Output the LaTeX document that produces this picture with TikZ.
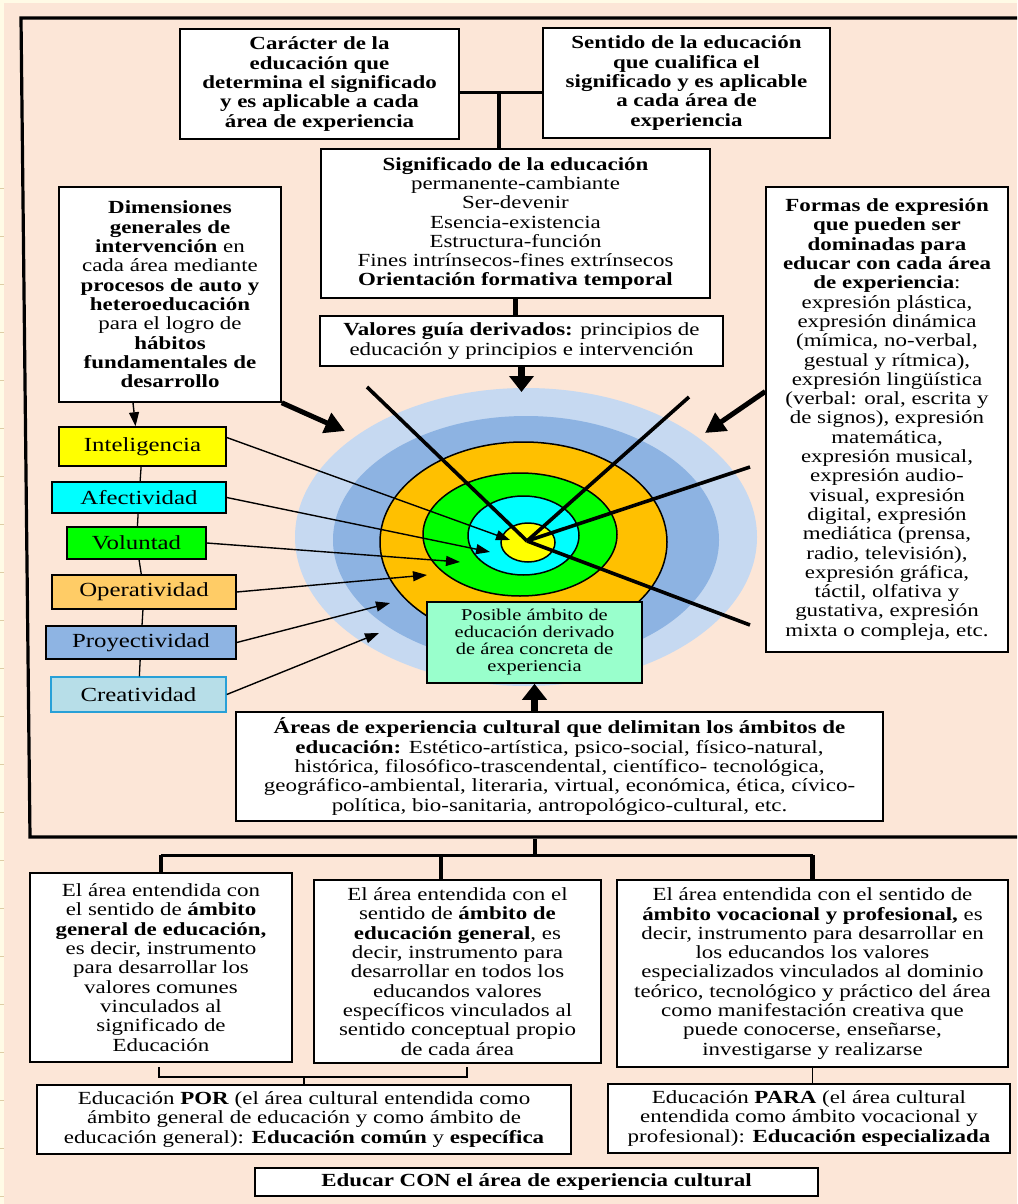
\documentclass[tikz,border=0pt]{standalone}
\usepackage{fontspec}
\setmainfont{Liberation Serif}[FakeStretch=1.24]
\usepackage{tikz}
\usetikzlibrary{arrows.meta}
\definecolor{peach}{RGB}{252,230,215}
\definecolor{paper}{RGB}{255,251,230}
\definecolor{rulemark}{RGB}{222,205,165}
\definecolor{ringA}{RGB}{198,217,241}
\definecolor{ringB}{RGB}{141,179,226}
\definecolor{ringC}{RGB}{255,192,0}
\definecolor{ringD}{RGB}{0,255,0}
\definecolor{ringE}{RGB}{0,255,255}
\definecolor{ringF}{RGB}{255,255,0}
\definecolor{operC}{RGB}{255,204,102}
\definecolor{proyC}{RGB}{142,180,227}
\definecolor{creatC}{RGB}{183,222,232}
\definecolor{creatL}{RGB}{40,160,215}
\definecolor{mint}{RGB}{153,255,204}
\newcommand{\boxfont}{\fontsize{18.5}{19.3}\selectfont}
\newcommand{\dimfont}{\fontsize{20}{21}\selectfont}
\newcommand{\posfont}{\fontsize{16.5}{17}\selectfont}
\tikzstyle{box}=      [draw, fill=white, line width=1.5pt, align=center, inner sep=2pt, font=\boxfont]
\tikzstyle{dimbox}=   [draw, line width=1.5pt, inner sep=1pt, font=\dimfont]
\tikzstyle{ring}=     [draw, line width=1.5pt]
\tikzstyle{frameline}=[line width=3.2pt, line join=miter]
\tikzstyle{conn}=     [line width=3pt]
\tikzstyle{vconn}=    [line width=4.5pt]
\tikzstyle{thinconn}= [line width=1.3pt]
\tikzstyle{ray}=      [line width=3.6pt]
\tikzstyle{arr}=      [line width=1.4pt, -{Triangle[length=14pt,width=10pt]}]
\tikzstyle{bigarr}=   [line width=5pt, -{Triangle[length=20pt,width=21pt]}]
\tikzstyle{vbigarr}=  [line width=7.5pt, -{Triangle[length=16pt,width=24pt]}]

\begin{document}
\begin{tikzpicture}[x=1pt,y=-1pt]
 \useasboundingbox (0,0) rectangle (1017,1204);
 \fill[paper] (0,0) rectangle (1017,1204);
 \fill[peach] (4,3) rectangle (1017,1204);
 \foreach \t in {188,236,...,1196}
  \draw[rulemark, line width=1pt] (0,\t) -- (4,\t);

 \draw[frameline] (1017,18) -- (21,18) -- (30,837) -- (1017,837);

 % anillos
 \fill[ringA] (526,537) ellipse [x radius=231, y radius=149];
 \fill[ringB] (526,540) ellipse [x radius=193, y radius=124];
 \filldraw[ring, fill=ringC] (523.5,542) ellipse [x radius=143.5, y radius=100];
 \filldraw[ring, fill=ringD] (520,534.5) ellipse [x radius=97, y radius=61.5];
 \filldraw[ring, fill=ringE] (523.5,535.5) ellipse [x radius=55.5, y radius=39.5];
 \filldraw[ring, fill=ringF] (528,542.5) ellipse [x radius=27, y radius=19.5];

 \coordinate (core) at (527,541);
 \foreach \p in {(367,387),(689,397),(750,467),(750,625)}
  \draw[ray] \p -- (core);

 % cajas superiores
 \node[box, font=\boxfont\bfseries, minimum width=279pt, minimum height=110pt] (carac) at (319.5,84)
  {Carácter de la\\ educación que\\ determina el significado\\ y es aplicable a cada\\ área de experiencia};
 \node[box, font=\boxfont\bfseries, minimum width=287pt, minimum height=110pt] (sentido) at (686.5,83)
  {Sentido de la educación\\ que cualifica el\\ significado y es aplicable\\ a cada área de\\ experiencia};
 \node[box, minimum width=389pt, minimum height=149pt] (signif) at (515.5,223.5)
  {\textbf{Significado de la educación}\\ permanente-cambiante\\ Ser-devenir\\ Esencia-existencia\\ Estructura-función\\ Fines intrínsecos-fines extrínsecos\\ \textbf{Orientación formativa temporal}};
 \node[box, minimum width=403pt, minimum height=50pt] (valores) at (521.5,341)
  {\textbf{Valores guía derivados:} principios de\\ educación y principios e intervención};
 \node[box, minimum width=222pt, minimum height=215pt] (dimen) at (170,294.5)
  {\textbf{Dimensiones}\\ \textbf{generales de}\\ \textbf{intervención} en\\ cada área mediante\\ \textbf{procesos de auto y}\\ \textbf{heteroeducación}\\ para el logro de\\ \textbf{hábitos}\\ \textbf{fundamentales de}\\ \textbf{desarrollo}};
 \node[box, minimum width=242pt, minimum height=465pt] (formas) at (887,419.5)
  {\textbf{Formas de expresión}\\ \textbf{que pueden ser}\\ \textbf{dominadas para}\\ \textbf{educar con cada área}\\ \textbf{de experiencia}:\\ expresión plástica,\\ expresión dinámica\\ (mímica, no-verbal,\\ gestual y rítmica),\\ expresión lingüística\\ (verbal: oral, escrita y\\ de signos), expresión\\ matemática,\\ expresión musical,\\ expresión audio-\\ visual, expresión\\ digital, expresión\\ mediática (prensa,\\ radio, televisión),\\ expresión gráfica,\\ táctil, olfativa y\\ gustativa, expresión\\ mixta o compleja, etc.};

 \coordinate (topjoin) at (499,93);
 \draw[conn] (carac.east |- topjoin) -- (sentido.west |- topjoin);
 \draw[vconn] (topjoin) -- (topjoin |- signif.north);
 \draw[vconn] (signif.south) -- (signif.south |- valores.north);

 % dimensiones
 \node[dimbox, fill=ringF, minimum width=167pt, minimum height=39pt] (intel) at (142.5,446.5) {Inteligencia};
 \node[dimbox, fill=ringE, minimum width=174pt, minimum height=31pt] (afect) at (139,497.5) {Afectividad};
 \node[dimbox, fill=ringD, minimum width=139pt, minimum height=32pt] (volun) at (136.5,543) {Voluntad};
 \node[dimbox, fill=operC, minimum width=184pt, minimum height=34pt] (oper) at (144,592) {Operatividad};
 \node[dimbox, fill=proyC, minimum width=190pt, minimum height=33pt] (proy) at (141,642.5) {Proyectividad};
 \node[dimbox, draw=creatL, fill=creatC, minimum width=175pt, minimum height=35pt] (creat) at (138.5,694.5) {Creatividad};

 \foreach \a/\b in {intel/afect, afect/volun, volun/oper, oper/proy, proy/creat}
  \draw[thinconn] (\a) -- (\b);
 \draw[arr] ([xshift=-37pt]dimen.south) -- ([xshift=-7pt]intel.north);

 \coordinate (tIntel) at (510,540);
 \coordinate (tAfect) at (490,552);
 \coordinate (tVolun) at (460,562);
 \coordinate (tOper) at (427,575);
 \coordinate (tProy) at (390,603);
 \coordinate (tCreat) at (379,633);
 \draw[arr] ([yshift=9pt]intel.east) -- (tIntel);
 \foreach \b/\t in {afect/tAfect, volun/tVolun, oper/tOper, proy/tProy, creat/tCreat}
  \draw[arr] (\b.east) -- (\t);

 \coordinate (tDimen) at (345,431);
 \coordinate (tFormas) at (705,433);
 \coordinate (tValores) at (521.5,392);
 \draw[bigarr] (dimen.south east) -- (tDimen);
 \draw[bigarr] ([yshift=28pt]formas.west) -- (tFormas);
 \draw[vbigarr] (valores.south) -- (tValores);

 \node[box, fill=mint, font=\posfont, minimum width=215pt, minimum height=81pt] (posible) at (534.5,642.5)
  {Posible ámbito de\\ educación derivado\\ de área concreta de\\ experiencia};
 \node[box, minimum width=647pt, minimum height=109pt] (areas) at (559.5,766.5)
  {\textbf{Áreas de experiencia cultural que delimitan los ámbitos de}\\ \textbf{educación:} Estético-artística, psico-social, físico-natural,\\ histórica, filosófico-trascendental, científico- tecnológica,\\ geográfico-ambiental, literaria, virtual, económica, ética, cívico-\\ política, bio-sanitaria, antropológico-cultural, etc.};
 \draw[vbigarr] (posible.south |- areas.north) -- (posible.south);

 % parte inferior
 \node[box, minimum width=262pt, minimum height=189pt] (gen) at (161,967.5)
  {El área entendida con\\ el sentido de \textbf{ámbito}\\ \textbf{general de educación,}\\ es decir, instrumento\\ para desarrollar los\\ valores comunes\\ vinculados al\\ significado de\\ Educación};
 \node[box, minimum width=287pt, minimum height=183pt] (espec) at (457.5,971.5)
  {El área entendida con el\\ sentido de \textbf{ámbito de}\\ \textbf{educación general}, es\\ decir, instrumento para\\ desarrollar en todos los\\ educandos valores\\ específicos vinculados al\\ sentido conceptual propio\\ de cada área};
 \node[box, minimum width=391pt, minimum height=187pt] (voc) at (812.5,973.5)
  {El área entendida con el sentido de\\ \textbf{ámbito vocacional y profesional,} es\\ decir, instrumento para desarrollar en\\ los educandos los valores\\ especializados vinculados al dominio\\ teórico, tecnológico y práctico del área\\ como manifestación creativa que\\ puede conocerse, enseñarse,\\ investigarse y realizarse};
 \node[box, minimum width=534pt, minimum height=69pt] (por) at (304,1119.5)
  {Educación \textbf{POR} (el área cultural entendida como\\ ámbito general de educación y como ámbito de\\ educación general): \textbf{Educación común} y \textbf{específica}};
 \node[box, minimum width=402pt, minimum height=69pt] (para) at (809,1118.5)
  {Educación \textbf{PARA} (el área cultural\\ entendida como ámbito vocacional y\\ profesional): \textbf{Educación especializada}};
 \node[box, font=\boxfont\bfseries, minimum width=563pt, minimum height=28pt] (con) at (536.5,1182)
  {Educar CON el área de experiencia cultural};

 \coordinate (botjoin) at (535,855);
 \coordinate (j2) at (441,855);
 \draw[vconn] (botjoin |- 0,839) -- (botjoin);
 \draw[conn] (gen.north |- botjoin) -- (voc.north |- botjoin);
 \draw[vconn] (gen.north |- botjoin) -- (gen.north);
 \draw[vconn] (j2) -- (j2 |- espec.north);
 \draw[vconn] (voc.north |- botjoin) -- (voc.north);

 \coordinate (brL) at (159,1067);
 \coordinate (brR) at (467,1067);
 \coordinate (brkt) at (304,1077);
 \draw[thinconn] (brL) |- (brR |- brkt) -- (brR);
 \draw[thinconn] (brkt) -- (por.north);
 \draw[thinconn] (voc.south) -- (voc.south |- para.north);
\end{tikzpicture}
\end{document}
